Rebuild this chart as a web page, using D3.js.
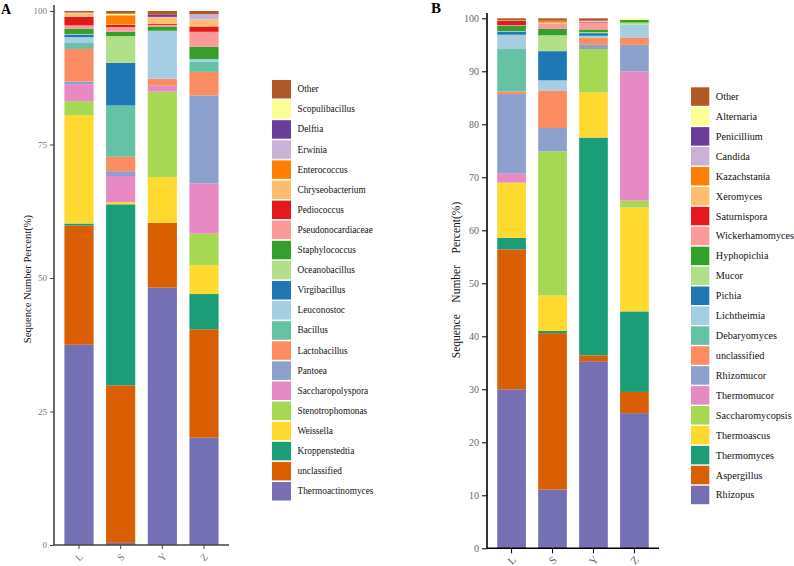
<!DOCTYPE html>
<html><head><meta charset="utf-8">
<script src="https://cdn.jsdelivr.net/npm/d3@7"></script>
<style>body{margin:0;background:#fff}svg{display:block}</style>
</head><body>
<svg id="c" width="794" height="566"></svg>
<script>
const samples = ["L","S","Y","Z"];
const palette = ["#7570B3","#D95F02","#1B9E77","#FFD92F","#A6D854","#E78AC3","#8DA0CB","#FC8D62","#66C2A5","#A6CEE3","#1F78B4","#B2DF8A","#33A02C","#FB9A99","#E31A1C","#FDBF6F","#FF7F00","#CAB2D6","#6A3D9A","#FFFF99","#B15928"];

// Panel A genera (bottom to top of stack)
const generaA = ["Thermoactinomyces","unclassified","Kroppenstedtia","Weissella","Stenotrophomonas","Saccharopolyspora","Pantoea","Lactobacillus","Bacillus","Leuconostoc","Virgibacillus","Oceanobacillus","Staphylococcus","Pseudonocardiaceae","Pediococcus","Chryseobacterium","Enterococcus","Erwinia","Delftia","Scopulibacillus","Other"];
// values per genus for samples L,S,Y,Z (%)
const valuesA = [
  [37.5, 0.4, 48.2, 20.1],
  [22.3, 29.5, 12.1, 20.3],
  [0.4, 33.9, 0.0, 6.6],
  [20.3, 0.4, 8.6, 5.4],
  [2.6, 0.0, 16.0, 5.9],
  [3.2, 4.9, 1.1, 9.4],
  [0.5, 0.9, 0.0, 16.5],
  [6.1, 2.7, 1.3, 4.4],
  [1.1, 9.6, 0.0, 1.9],
  [1.1, 0.0, 9.0, 0.5],
  [0.5, 8.0, 0.0, 0.0],
  [0.1, 5.0, 0.0, 0.0],
  [1.0, 0.8, 0.8, 2.3],
  [0.6, 0.9, 0.3, 2.8],
  [1.6, 0.4, 0.2, 1.0],
  [0.5, 0.1, 1.2, 1.3],
  [0.1, 1.7, 0.0, 0.0],
  [0.1, 0.0, 0.1, 1.0],
  [0.0, 0.0, 0.4, 0.0],
  [0.1, 0.3, 0.0, 0.0],
  [0.3, 0.5, 0.7, 0.6]
];

// Panel B genera (bottom to top of stack)
const generaB = ["Rhizopus","Aspergillus","Thermomyces","Thermoascus","Saccharomycopsis","Thermomucor","Rhizomucor","unclassified","Debaryomyces","Lichtheimia","Pichia","Mucor","Hyphopichia","Wickerhamomyces","Saturnispora","Xeromyces","Kazachstania","Candida","Penicillium","Alternaria","Other"];
const valuesB = [
  [30.0, 11.1, 35.3, 25.5],
  [26.4, 29.5, 1.1, 4.0],
  [2.2, 0.4, 41.1, 15.2],
  [10.4, 6.7, 8.5, 19.6],
  [0.0, 27.2, 8.2, 1.3],
  [1.7, 0.0, 0.0, 24.4],
  [15.0, 4.4, 0.8, 5.0],
  [0.5, 7.0, 1.3, 1.4],
  [8.0, 0.0, 0.0, 0.0],
  [2.7, 2.0, 0.4, 2.4],
  [0.6, 5.5, 0.5, 0.0],
  [0.1, 3.0, 0.2, 0.4],
  [1.0, 1.2, 0.5, 0.5],
  [0.1, 1.0, 1.3, 0.0],
  [0.8, 0.0, 0.1, 0.0],
  [0.1, 0.2, 0.1, 0.0],
  [0.0, 0.3, 0.0, 0.0],
  [0.0, 0.0, 0.1, 0.0],
  [0.0, 0.1, 0.1, 0.0],
  [0.0, 0.0, 0.0, 0.3],
  [0.4, 0.4, 0.4, 0.0]
];
const ticksA = [0, 25, 50, 75, 100];
const ticksB = [0, 10, 20, 30, 40, 50, 60, 70, 80, 90, 100];

const svg = d3.select("#c");
const serif = "'Liberation Serif','Times New Roman',serif";

function panel(cfg) {
  const {genera, values, ticks, x0, x1, y0, y1, axisTop, axisColor, tickColor, tickSize, legX, legY, legPitch, legW, legH, legFont, label, labelX, labelY, labelSize, title, titleX, titleY, titleSize, xLabY} = cfg;
  const rows = samples.map((s, j) => {
    const o = {sample: s};
    genera.forEach((g, i) => o[g] = values[i][j]);
    return o;
  });
  const stack = d3.stack().keys(genera)(rows);
  const x = d3.scaleBand().domain(samples).range([x0, x1]).paddingInner(0.3).paddingOuter(0.25);
  const y = d3.scaleLinear().domain([0, 100]).range([y0, y1]);
  const color = d3.scaleOrdinal().domain(genera).range(palette);
  const g = svg.append("g");
  g.selectAll("g.layer").data(stack).join("g").attr("class","layer")
    .attr("fill", d => color(d.key))
    .selectAll("rect").data(d => d).join("rect")
    .attr("x", d => x(d.data.sample))
    .attr("width", x.bandwidth())
    .attr("y", d => y(d[1]))
    .attr("height", d => Math.max(0, y(d[0]) - y(d[1])));

  // y axis
  const ya = g.append("g").attr("transform", `translate(${x0},0)`)
    .call(d3.axisLeft(y).tickValues(ticks).tickSize(tickSize).tickPadding(3));
  ya.select(".domain").remove();
  ya.selectAll(".tick line").attr("stroke", axisColor).attr("stroke-width", 1);
  ya.selectAll(".tick text").attr("fill", tickColor).attr("font-family", serif).attr("font-size", cfg.tickFont);
  g.append("line").attr("x1", x0).attr("x2", x0).attr("y1", axisTop).attr("y2", y0)
    .attr("stroke", axisColor).attr("stroke-width", 1.6);
  // x axis
  const xa = g.append("g").attr("transform", `translate(0,${y0})`)
    .call(d3.axisBottom(x).tickSize(tickSize).tickFormat(""));
  xa.select(".domain").remove();
  xa.selectAll(".tick line").attr("stroke", axisColor).attr("stroke-width", 1);
  g.append("line").attr("x1", x0).attr("x2", x1).attr("y1", y0).attr("y2", y0)
    .attr("stroke", axisColor).attr("stroke-width", 1.6);
  g.selectAll("text.xl").data(samples).join("text").attr("class","xl")
    .attr("transform", d => `translate(${x(d) + x.bandwidth()/2},${xLabY}) rotate(-45)`)
    .attr("text-anchor", "middle").attr("dominant-baseline", "central")
    .attr("font-family", serif).attr("font-size", cfg.tickFont + 1).attr("fill", tickColor)
    .text(d => d);

  // y title
  g.append("text").attr("transform", `translate(${titleX},${titleY}) rotate(-90)`)
    .attr("text-anchor", "middle").attr("font-family", serif).attr("font-size", titleSize)
    .attr("fill", "#111").style("white-space", "pre").text(title);

  // panel label
  g.append("text").attr("x", labelX).attr("y", labelY).attr("font-family", serif)
    .attr("font-weight", "bold").attr("font-size", labelSize).attr("fill", "#000").text(label);

  // legend (top = last genus)
  const legendItems = genera.slice().reverse();
  const lg = g.append("g");
  legendItems.forEach((name, i) => {
    const yy = legY + i * legPitch;
    lg.append("rect").attr("x", legX).attr("y", yy).attr("width", legW).attr("height", legH)
      .attr("fill", color(name));
    lg.append("text").attr("x", legX + legW + 6.5).attr("y", yy + legH / 2)
      .attr("dominant-baseline", "central").attr("font-family", serif)
      .attr("font-size", legFont).attr("fill", "#111").text(name);
  });
}

panel({genera: generaA, values: valuesA, ticks: ticksA,
  x0: 54, x1: 229, y0: 545, y1: 11, axisTop: 5, axisColor: "#444", tickColor: "#777", tickSize: 4, tickFont: 9,
  legX: 272, legY: 80, legPitch: 20.1, legW: 19, legH: 18.5, legFont: 9.3,
  label: "A", labelX: 1, labelY: 14, labelSize: 14,
  title: "Sequence Number Percent(%)", titleX: 31, titleY: 279, titleSize: 10.6, xLabY: 557});

panel({genera: generaB, values: valuesB, ticks: ticksB,
  x0: 487, x1: 659, y0: 548.3, y1: 18.3, axisTop: 13, axisColor: "#000", tickColor: "#666", tickSize: 5, tickFont: 10,
  legX: 691, legY: 87.3, legPitch: 19.92, legW: 18.3, legH: 18.5, legFont: 10.2,
  label: "B", labelX: 431, labelY: 13, labelSize: 15,
  title: "Sequence    Number    Percent(%)", titleX: 460, titleY: 280, titleSize: 11.5, xLabY: 560});
</script>
</body></html>
